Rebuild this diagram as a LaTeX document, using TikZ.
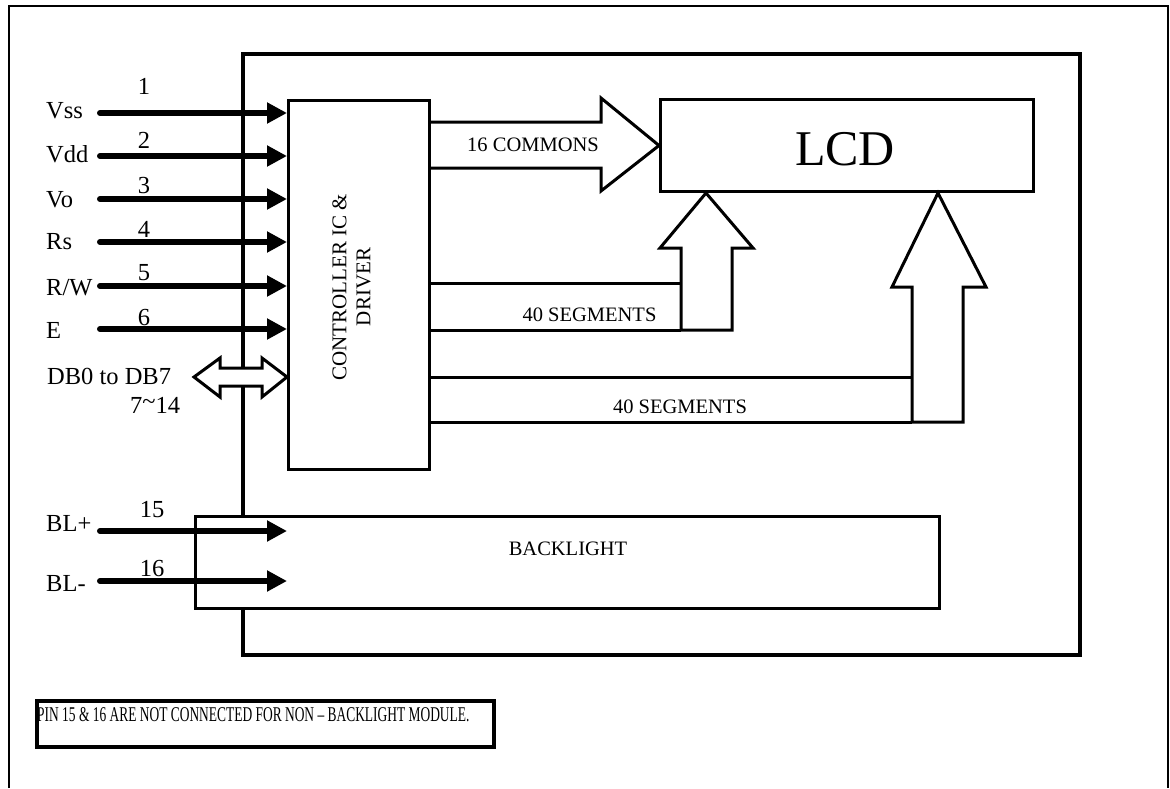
\documentclass[tikz,border=0pt]{standalone}
\usepackage{fontspec}
\usepackage{graphicx}
\setmainfont{Liberation Serif}
\usetikzlibrary{arrows.meta}
\newcommand\pinfont{\fontsize{24.5}{28}\selectfont}
\newcommand\midfont{\fontsize{20.5}{24}\selectfont}
\newcommand\ctlfont{\fontsize{21}{24}\selectfont}
\newcommand\lcdfont{\fontsize{50}{56}\selectfont}
\newcommand\notefont{\fontsize{21}{24}\selectfont}
\tikzset{
  box/.style={draw, line width=3, fill=white, inner sep=0, anchor=north west},
  pin/.style={line width=6, line cap=round, -{Triangle[length=20pt,width=20pt]}},
  hollow/.style={draw, line width=3, fill=white, line join=miter},
  wire/.style={line width=3},
  txt/.style={inner sep=0, anchor=base},
  lbl/.style={inner sep=0, anchor=base west, font=\pinfont},
  num/.style={inner sep=0, anchor=base, font=\pinfont}
}
\begin{document}
\begin{tikzpicture}[x=1pt,y=-1pt]
\useasboundingbox (0,0) rectangle (1170,788);
% outer frame
\draw[line width=1.8] (9,788) -- (9,6) -- (1168,6) -- (1168,788);
% module
\node[box, line width=3.5, minimum width=837, minimum height=601] (module) at (241,52) {};
% controller
\node[box, minimum width=141, minimum height=369] (ctrl) at (287,99) {};
\node[inner sep=0, rotate=90, align=center, font=\ctlfont] (ctrltxt) at (351.5,287) {CONTROLLER IC \&\\DRIVER};
% LCD
\node[box, minimum width=373, minimum height=92] (lcd) at (659,98) {};
\node[txt, font=\lcdfont] (lcdtxt) at (845,165) {LCD};
% 16 commons arrow
\draw[hollow] (ctrl.east |- 0,122) -- (601,122) -- (601,98) -- (lcd.west) -- (601,191) -- (601,168) -- (ctrl.east |- 0,168);
\node[txt, font=\midfont] (comtxt) at (533,151) {16 COMMONS};
% segments arrow 1
\draw[hollow] (681,330) -- (681,248) -- (660,248) -- (706,0 |- lcd.south) -- (753,248) -- (732,248) -- (732,330) -- cycle;
\draw[wire] (ctrl.east |- 0,283) -- (681,283);
\draw[wire] (ctrl.east |- 0,330) -- (681,330);
\node[txt, font=\midfont] (seg1) at (589.5,321) {40 SEGMENTS};
% segments arrow 2
\draw[hollow] (912,422) -- (912,287) -- (892,287) -- (938,0 |- lcd.south) -- (986,287) -- (963,287) -- (963,422) -- cycle;
\draw[wire] (ctrl.east |- 0,377) -- (912,377);
\draw[wire] (ctrl.east |- 0,422) -- (912,422);
\node[txt, font=\midfont] (seg2) at (680,413) {40 SEGMENTS};
% pins
\coordinate (p1) at (100,113);
\coordinate (p2) at (100,156);
\coordinate (p3) at (100,199);
\coordinate (p4) at (100,242);
\coordinate (p5) at (100,286);
\coordinate (p6) at (100,329);
\draw[pin] (p1) -- (p1 -| ctrl.west);
\draw[pin] (p2) -- (p2 -| ctrl.west);
\draw[pin] (p3) -- (p3 -| ctrl.west);
\draw[pin] (p4) -- (p4 -| ctrl.west);
\draw[pin] (p5) -- (p5 -| ctrl.west);
\draw[pin] (p6) -- (p6 -| ctrl.west);
\node[lbl] (l1) at (46,118) {Vss};
\node[lbl] (l2) at (46,162) {Vdd};
\node[lbl] (l3) at (46,207) {Vo};
\node[lbl] (l4) at (46,249) {Rs};
\node[lbl] (l5) at (46,295) {R/W};
\node[lbl] (l6) at (46,338) {E};
\node[num] (n1) at (144,94) {1};
\node[num] (n2) at (144,148) {2};
\node[num] (n3) at (144,193) {3};
\node[num] (n4) at (144,237) {4};
\node[num] (n5) at (144,280) {5};
\node[num] (n6) at (144,325) {6};
% data bus double arrow
\coordinate (dbtip) at (194,377);
\draw[hollow] (dbtip) -- (220,358) -- (220,368) -- (262,368) -- (262,358) -- (ctrl.west |- dbtip) -- (262,397) -- (262,386) -- (220,386) -- (220,397) -- cycle;
\node[lbl] (ldb) at (47,384) {DB0 to DB7};
\node[lbl] (ndb) at (130,413) {7\raisebox{0.15em}{\char"007E}14};
% backlight
\node[box, minimum width=744, minimum height=92] (bl) at (194,515) {};
\node[txt, font=\midfont] (bltxt) at (568,555) {BACKLIGHT};
\coordinate (p15) at (100,531);
\coordinate (p16) at (100,581);
\draw[pin] (p15) -- (p15 -| ctrl.west);
\draw[pin] (p16) -- (p16 -| ctrl.west);
\node[lbl] (l15) at (46,531) {BL+};
\node[lbl] (l16) at (46,591) {BL-};
\node[num] (n15) at (152,517) {15};
\node[num] (n16) at (152,576) {16};
% note
\node[box, line width=4, minimum width=457, minimum height=46] (note) at (35,699) {};
\node[inner sep=0, anchor=base west] (notetxt) at (37,721) {\scalebox{0.64}[1]{\notefont PIN 15 \& 16 ARE NOT CONNECTED FOR NON – BACKLIGHT MODULE.}};
\end{tikzpicture}
\end{document}
